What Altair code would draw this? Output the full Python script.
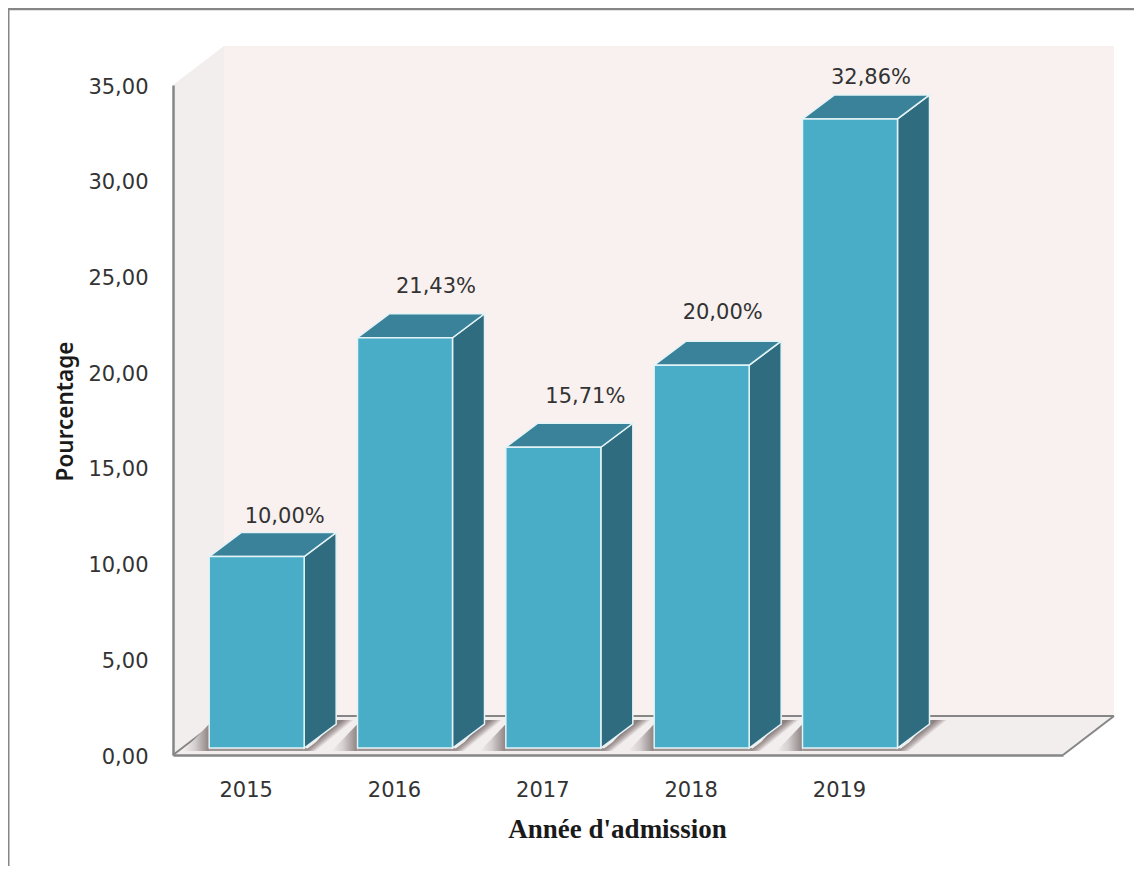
import altair as alt
import pandas as pd

# ---- data ----
YEARS = [2015, 2016, 2017, 2018, 2019]
VALUES = [10.00, 21.43, 15.71, 20.00, 32.86]
LABELS = ["10,00%", "21,43%", "15,71%", "20,00%", "32,86%"]
Y_TICKS = [0, 5, 10, 15, 20, 25, 30, 35]

# ---- layout ----
W, H = 890, 670
X0, X1, Y0, Y1 = 2014.5, 2020.5, 0, 35
PX = W / (X1 - X0)   # px per x unit
PY = H / (Y1 - Y0)   # px per y unit
dx = lambda p: p / PX
dy = lambda p: p / PY

WALL_DX, WALL_DY = dx(51), dy(39)
BAR_W = dx(95)
BAR_SHIFT = dx(9.5)
BAR_BASE = dy(7)
SIDE_DX, SIDE_DY = dx(32), dy(24)
LABEL_SHIFT_X = [28, 31, 32, 21, 21]   # label offset from the bar centre, px
LABEL_SHIFT_Y = [40, 51, 50, 52, 41]   # label offset above the bar top, px

FRONT, TOP, SIDE = "#4AADC8", "#39829A", "#306C80"
BACK, WALL = "#F9F1EF", "#F3EEEE"
AXIS = "#868686"
INK = "#333333"
FONT = "DejaVu Sans"
FS = 21

x_enc = alt.X("x:Q", scale=alt.Scale(domain=[X0, X1], nice=False, zero=False),
              axis=alt.Axis(values=YEARS, format="d", title="Année d'admission", grid=False,
                            ticks=False, domainColor=AXIS, domainWidth=2.5,
                            labelFont=FONT, labelFontSize=FS, labelColor=INK,
                            labelPadding=24, labelOffset=-1.5, labelOverlap=False, labelFlush=False,
                            titleFont="Liberation Serif", titleFontSize=27, titleFontWeight="bold",
                            titleColor="#1a1a1a", titleX=444, titleY=74,
                            titleAlign="center", titleBaseline="middle", zindex=1))
y_enc = alt.Y("y:Q", scale=alt.Scale(domain=[Y0, Y1], nice=False, zero=True),
              axis=alt.Axis(values=Y_TICKS, labelExpr="replace(format(datum.value,'.2f'),'.',',')",
                            title="Pourcentage", grid=False, ticks=False,
                            domainColor=AXIS, domainWidth=2.5,
                            labelFont=FONT, labelFontSize=FS, labelColor=INK,
                            labelPadding=25, labelOffset=2, labelOverlap=False, labelFlush=False,
                            titleFont="Noto Sans", titleFontSize=22.5, titleFontWeight=600,
                            titleColor="#1a1a1a", titleX=-108, titleY=326,
                            titleAlign="center", titleBaseline="middle", zindex=1))


def para(left, right, base, sx, sy, g=0):
    """Parallelogram lying in depth: front edge left..right at `base`."""
    return [
        dict(x=left, y=base, y2=base, g=g),
        dict(x=left + sx, y=base + sy, y2=base, g=g),
        dict(x=right, y=base + sy, y2=base, g=g),
        dict(x=right + sx, y=base + sy, y2=base + sy, g=g),
    ]


def area(rows, **kw):
    return alt.Chart(pd.DataFrame(rows)).mark_area(orient="vertical", **kw).encode(
        x=x_enc, y=y_enc, y2="y2:Q", detail="g:N")


def grad(stops, x1=0.0, y1=0.0, x2=1.0, y2=0.0):
    return alt.Gradient(
        gradient="linear", x1=x1, y1=y1, x2=x2, y2=y2,
        stops=[alt.GradientStop(offset=o, color=c) for o, c in stops])


lefts = [yr + BAR_SHIFT - BAR_W / 2 for yr in YEARS]
rights = [l + BAR_W for l in lefts]
tops = [v + BAR_BASE for v in VALUES]

# walls and floor
back = area([dict(x=X0 + WALL_DX, y=Y1 + WALL_DY, y2=WALL_DY, g=0),
             dict(x=X1 + WALL_DX, y=Y1 + WALL_DY, y2=WALL_DY, g=0)], color=BACK)
left_wall = area([dict(x=X0, y=Y1, y2=0, g=0),
                  dict(x=X0 + WALL_DX, y=Y1 + WALL_DY, y2=WALL_DY, g=0)], color=WALL)
floor = area(para(X0, X1, 0, WALL_DX, WALL_DY), color=WALL)
floor_edges = alt.Chart(pd.DataFrame([
    dict(x=X0 + WALL_DX, y=WALL_DY, g=0), dict(x=X1 + WALL_DX, y=WALL_DY, g=0),
    dict(x=X0, y=0, g=1), dict(x=X0 + WALL_DX, y=WALL_DY, g=1),
    dict(x=X1, y=0, g=2), dict(x=X1 + WALL_DX, y=WALL_DY, g=2),
])).mark_line(color=AXIS, strokeWidth=2).encode(x=x_enc, y=y_enc, detail="g:N")

# shadows on the floor
shadow_dark = "#8d8282"
shadow_clear = "#F3EEEE"
right_rows, left_rows, strip_rows = [], [], []
for i, (l, r) in enumerate(zip(lefts, rights)):
    base = BAR_BASE
    right_rows += [
        dict(x=r, y=base - dy(3), y2=base - dy(3), g=i),
        dict(x=r + dx(12), y=base + dy(6), y2=base - dy(3), g=i),
        dict(x=r + dx(32), y=base + dy(28), y2=base + dy(13.3), g=i),
        dict(x=r + dx(50), y=base + dy(28), y2=base + dy(28), g=i),
    ]
    left_rows += [
        dict(x=l - dx(26), y=base - dy(3), y2=base - dy(3), g=i),
        dict(x=l, y=base + dy(24), y2=base - dy(3), g=i),
    ]
    strip_rows += [dict(x=l, y=base, y2=base - dy(3), g=i),
                   dict(x=r + dx(3), y=base, y2=base - dy(3), g=i)]

shadow_right = area(right_rows, color=grad(
    [(0, shadow_dark), (0.5, "#b8aeae"), (1, shadow_clear)],
    x1=0.0, y1=1.0, x2=0.152, y2=1.116))
shadow_left = area(left_rows, color=grad([(0, shadow_clear), (0.45, "#d5cfcf"), (1, shadow_dark)]))
strip = area(strip_rows, color="#9f9494")

# bars: side, top, front
side_rows, top_rows = [], []
for i, (r, l, t) in enumerate(zip(rights, lefts, tops)):
    side_rows += [dict(x=r, y=t, y2=BAR_BASE, g=i),
                  dict(x=r + SIDE_DX, y=t + SIDE_DY, y2=BAR_BASE + SIDE_DY, g=i)]
    top_rows += para(l, r, t, SIDE_DX, SIDE_DY, g=i)

edge = dict(stroke="#e4f3f6", strokeWidth=1.5)
sides = area(side_rows, color=SIDE, **edge)
top_faces = area(top_rows, color=TOP, **edge)

bars_df = pd.DataFrame(dict(x=lefts, x2=rights, y=tops, y2=[BAR_BASE] * len(YEARS)))
fronts = alt.Chart(bars_df).mark_rect(color=FRONT, **edge).encode(
    x=x_enc, x2="x2:Q", y=y_enc, y2="y2:Q")

# value labels
labels_df = pd.DataFrame(dict(
    x=[yr + BAR_SHIFT + dx(s) for yr, s in zip(YEARS, LABEL_SHIFT_X)],
    y=[t + dy(s) for t, s in zip(tops, LABEL_SHIFT_Y)],
    label=LABELS))
labels = alt.Chart(labels_df).mark_text(
    font=FONT, fontSize=FS, color=INK, align="center", baseline="middle"
).encode(x=x_enc, y=y_enc, text="label:N")

# outer frame, clipped by the picture at right and bottom
frame_top = alt.Chart(pd.DataFrame(dict(a=[0]))).mark_rule(color=AXIS, strokeWidth=2.5).encode(
    x=alt.value(-165), x2=alt.value(1000), y=alt.value(-76))
frame_left = alt.Chart(pd.DataFrame(dict(a=[0]))).mark_rule(color=AXIS, strokeWidth=3).encode(
    x=alt.value(-165), y=alt.value(-77), y2=alt.value(800))

chart = alt.layer(
    back, left_wall, floor, floor_edges,
    shadow_right, shadow_left, strip,
    sides, top_faces, fronts, labels,
    frame_top, frame_left,
).properties(
    width=W, height=H,
    autosize=alt.AutoSizeParams(type="none"),
    padding=dict(left=165, top=77, right=71, bottom=111),
    background="white",
).configure_view(stroke=None)

chart.save("out.html", embed_options={"renderer": "svg", "actions": False})
